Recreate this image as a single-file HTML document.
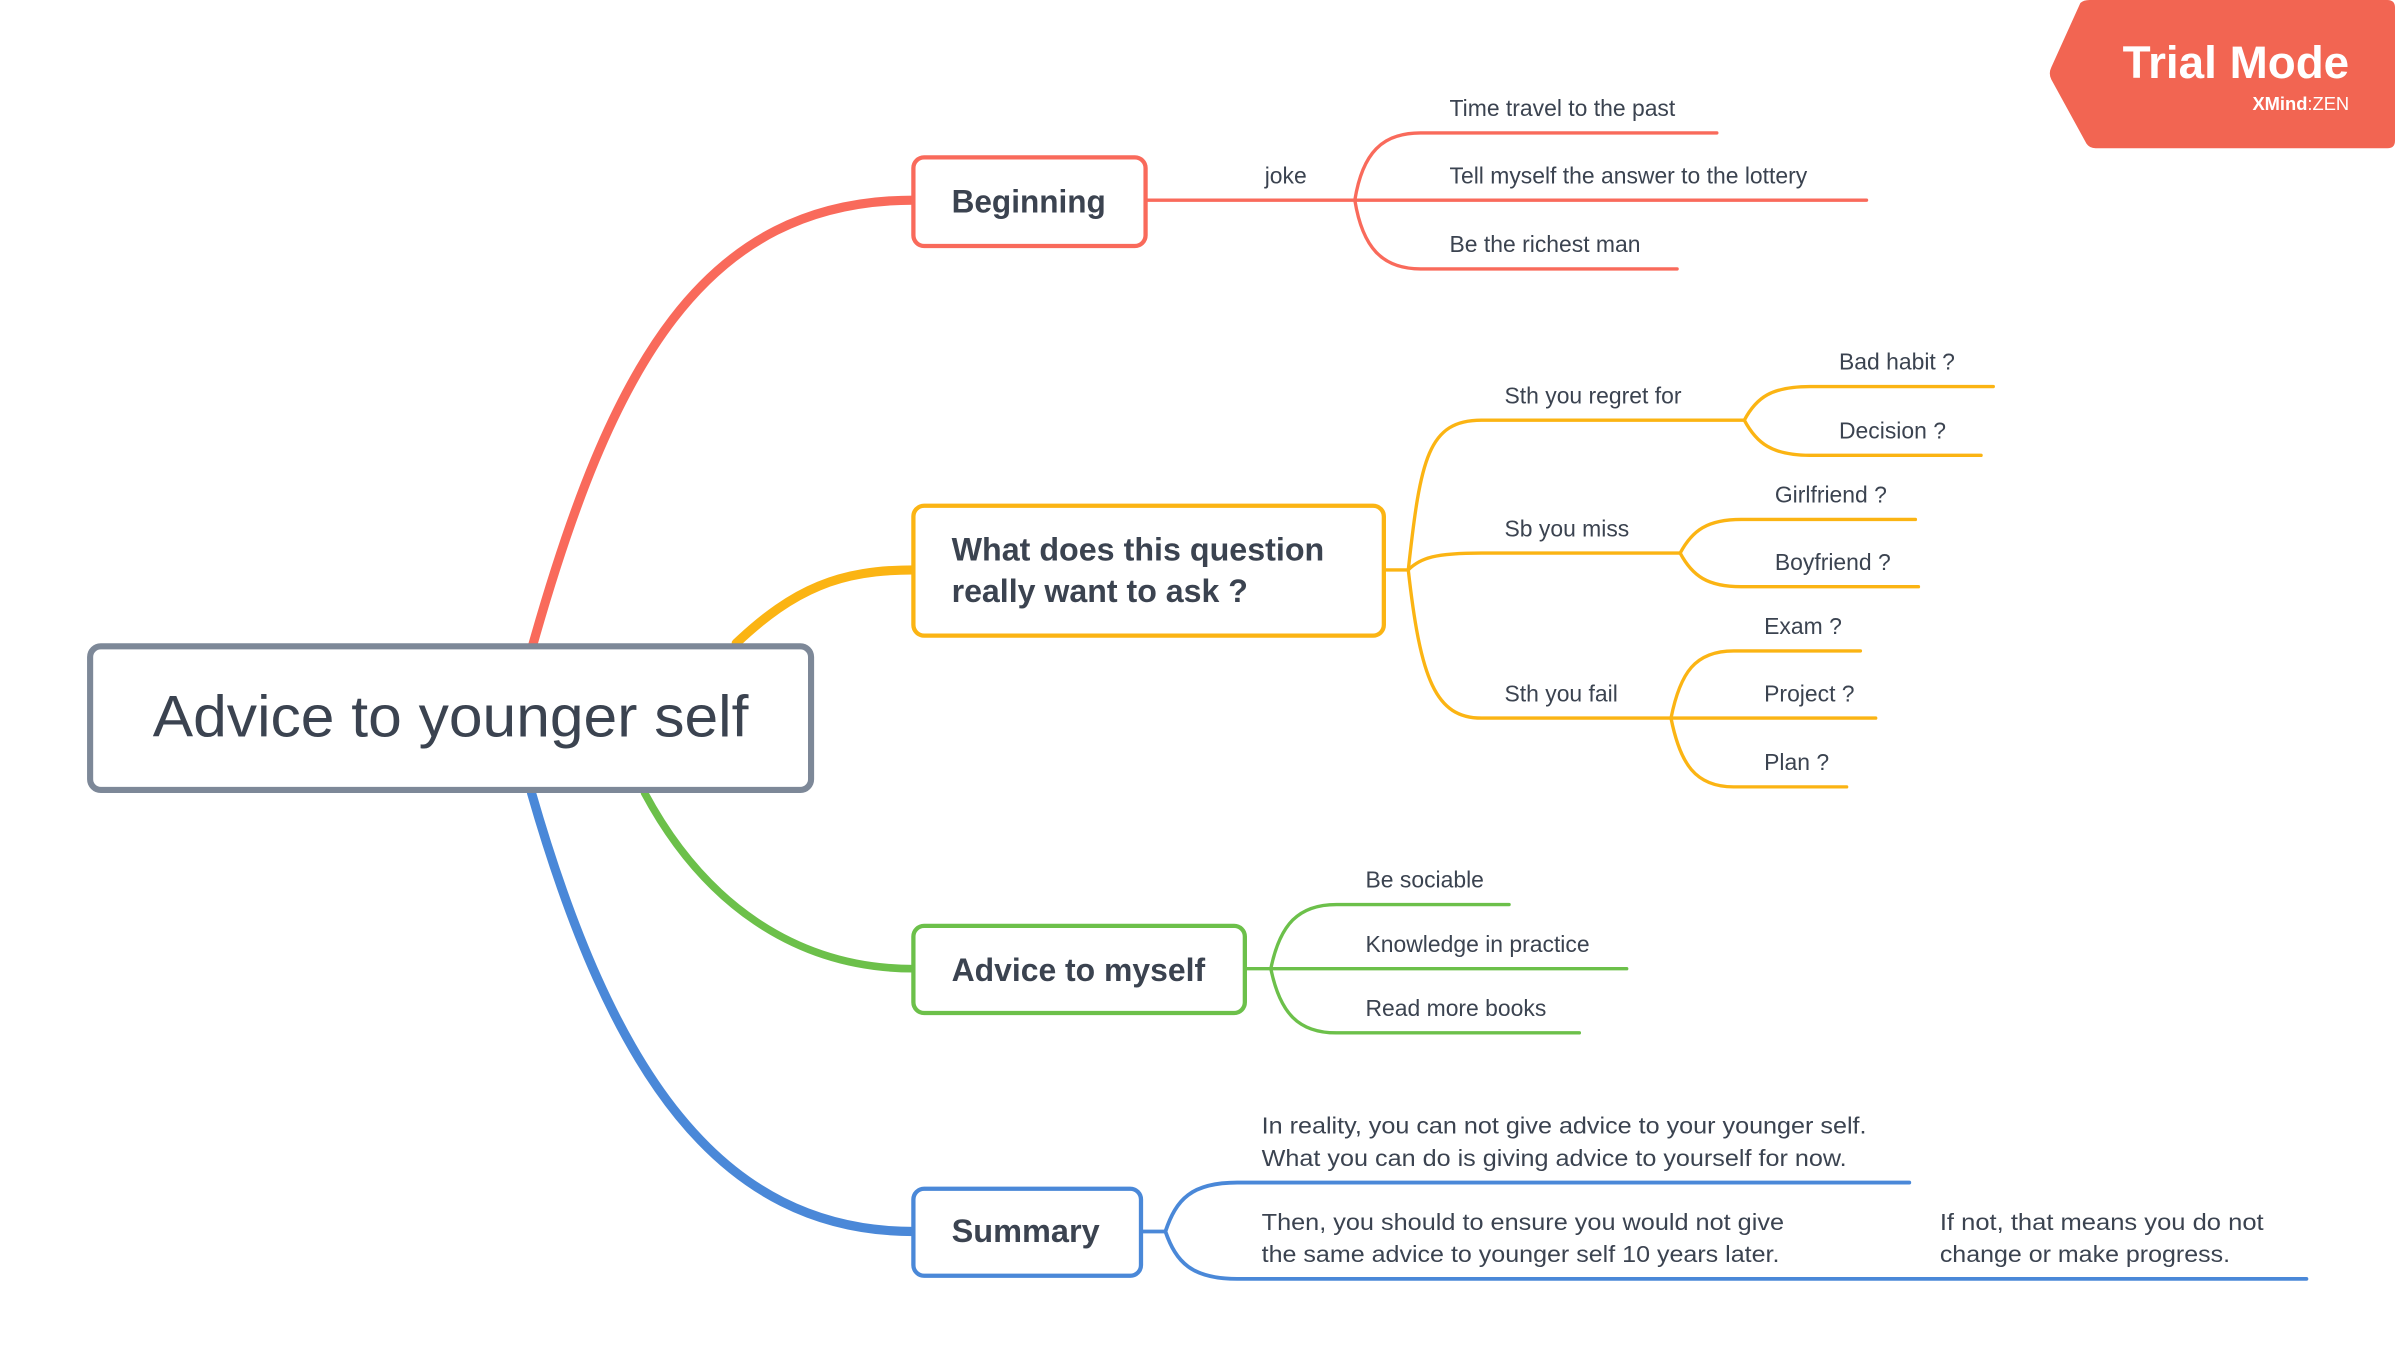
<!DOCTYPE html>
<html><head><meta charset="utf-8"><style>
html,body{margin:0;padding:0;background:#fff;}
svg{display:block;}
text{font-family:"Liberation Sans",sans-serif;fill:#3b4350;}
</style></head><body>
<svg width="2395" height="1369" viewBox="0 0 1568 896" xmlns="http://www.w3.org/2000/svg" preserveAspectRatio="none">
<g fill="none" stroke-linecap="round">
<!-- main branches -->
<path d="M348,425 C400,240 460,131 598,131" stroke="#f96a5b" stroke-width="6"/>
<path d="M482,421 C520,385 550,373 598,373" stroke="#fbb413" stroke-width="6"/>
<path d="M422,519 C460,590 520,634 598,634" stroke="#6cc04a" stroke-width="5"/>
<path d="M348,519 C400,700 470,806 598,806" stroke="#4a88d8" stroke-width="6"/>

<!-- Beginning -->
<g stroke="#f96a5b" stroke-width="2.2">
<path d="M750,131 H887"/>
<path d="M887,131 C892,100 905,87 930,87 H1124"/>
<path d="M887,131 H1222"/>
<path d="M887,131 C892,162 905,176 930,176 H1098"/>
</g>
<!-- orange -->
<g stroke="#fbb413" stroke-width="2.2">
<path d="M906,373 H922"/>
<path d="M922,373 C930,300 935,275 970,275 H1142"/>
<path d="M922,373 C930,365 940,362 970,362 H1100"/>
<path d="M922,373 C930,445 940,470 970,470 H1094"/>
<path d="M1142,275 C1150,260 1160,253 1185,253 H1305"/>
<path d="M1142,275 C1150,290 1160,298 1185,298 H1297"/>
<path d="M1100,362 C1108,347 1118,340 1140,340 H1254"/>
<path d="M1100,362 C1108,377 1118,384 1140,384 H1256"/>
<path d="M1094,470 C1100,440 1110,426 1135,426 H1218"/>
<path d="M1094,470 H1228"/>
<path d="M1094,470 C1100,500 1110,515 1135,515 H1209"/>
</g>
<!-- green -->
<g stroke="#6cc04a" stroke-width="2.2">
<path d="M815,634 H832"/>
<path d="M832,634 C838,605 850,592 875,592 H988"/>
<path d="M832,634 H1065"/>
<path d="M832,634 C838,663 850,676 875,676 H1034"/>
</g>
<!-- blue -->
<g stroke="#4a88d8" stroke-width="2.5">
<path d="M747,806 H763"/>
<path d="M763,806 C770,785 780,774 810,774 H1250"/>
<path d="M763,806 C770,826 780,837 810,837 H1510"/>
</g>

<!-- boxes -->
<rect x="59" y="423" width="472" height="94" rx="7" fill="#fff" stroke="#7d8898" stroke-width="4"/>
<rect x="598" y="103" width="152" height="58" rx="7" fill="#fff" stroke="#f96a5b" stroke-width="2.8"/>
<rect x="598" y="331" width="308" height="85" rx="7" fill="#fff" stroke="#fbb413" stroke-width="2.8"/>
<rect x="598" y="606" width="217" height="57" rx="7" fill="#fff" stroke="#6cc04a" stroke-width="2.8"/>
<rect x="598" y="778" width="149" height="57" rx="7" fill="#fff" stroke="#4a88d8" stroke-width="2.8"/>
</g>

<text x="295" y="482" font-size="38" text-anchor="middle" textLength="390" lengthAdjust="spacingAndGlyphs">Advice to younger self</text>
<text x="623" y="139" font-size="21" font-weight="bold" textLength="101" lengthAdjust="spacingAndGlyphs">Beginning</text>
<text x="623" y="367" font-size="21" font-weight="bold" textLength="244" lengthAdjust="spacingAndGlyphs">What does this question</text>
<text x="623" y="394" font-size="21" font-weight="bold" textLength="194" lengthAdjust="spacingAndGlyphs">really want to ask ?</text>
<text x="623" y="642" font-size="21" font-weight="bold" textLength="166" lengthAdjust="spacingAndGlyphs">Advice to myself</text>
<text x="623" y="813" font-size="21" font-weight="bold" textLength="97" lengthAdjust="spacingAndGlyphs">Summary</text>

<g font-size="15">
<text x="828" y="120">joke</text>
<text x="949" y="76">Time travel to the past</text>
<text x="949" y="120">Tell myself the answer to the lottery</text>
<text x="949" y="165">Be the richest man</text>
<text x="985" y="264">Sth you regret for</text>
<text x="985" y="351">Sb you miss</text>
<text x="985" y="459">Sth you fail</text>
<text x="1204" y="242">Bad habit ?</text>
<text x="1204" y="287">Decision ?</text>
<text x="1162" y="329">Girlfriend ?</text>
<text x="1162" y="373">Boyfriend ?</text>
<text x="1155" y="415">Exam ?</text>
<text x="1155" y="459">Project ?</text>
<text x="1155" y="504">Plan ?</text>
<text x="894" y="581">Be sociable</text>
<text x="894" y="623">Knowledge in practice</text>
<text x="894" y="665">Read more books</text>
<text x="826" y="742" textLength="396" lengthAdjust="spacingAndGlyphs">In reality, you can not give advice to your younger self.</text>
<text x="826" y="763" textLength="383" lengthAdjust="spacingAndGlyphs">What you can do is giving advice to yourself for now.</text>
<text x="826" y="805" textLength="342" lengthAdjust="spacingAndGlyphs">Then, you should to ensure you would not give</text>
<text x="826" y="826" textLength="339" lengthAdjust="spacingAndGlyphs">the same advice to younger self 10 years later.</text>
<text x="1270" y="805" textLength="212" lengthAdjust="spacingAndGlyphs">If not, that means you do not</text>
<text x="1270" y="826" textLength="190" lengthAdjust="spacingAndGlyphs">change or make progress.</text>
</g>

<!-- trial badge -->
<path d="M1362,2 Q1364,0 1368,0 H1563 Q1568,0 1568,5 V92 Q1568,97 1563,97 H1372 Q1368,97 1366,94 L1343,52 Q1341,48 1343,44 Z" fill="#f26552"/>
<text x="1538" y="51" font-size="30" font-weight="bold" text-anchor="end" style="fill:#fff">Trial Mode</text>
<text x="1538" y="72" font-size="12" text-anchor="end" style="fill:#fff"><tspan font-weight="bold">XMind</tspan>:ZEN</text>
</svg>
</body></html>
